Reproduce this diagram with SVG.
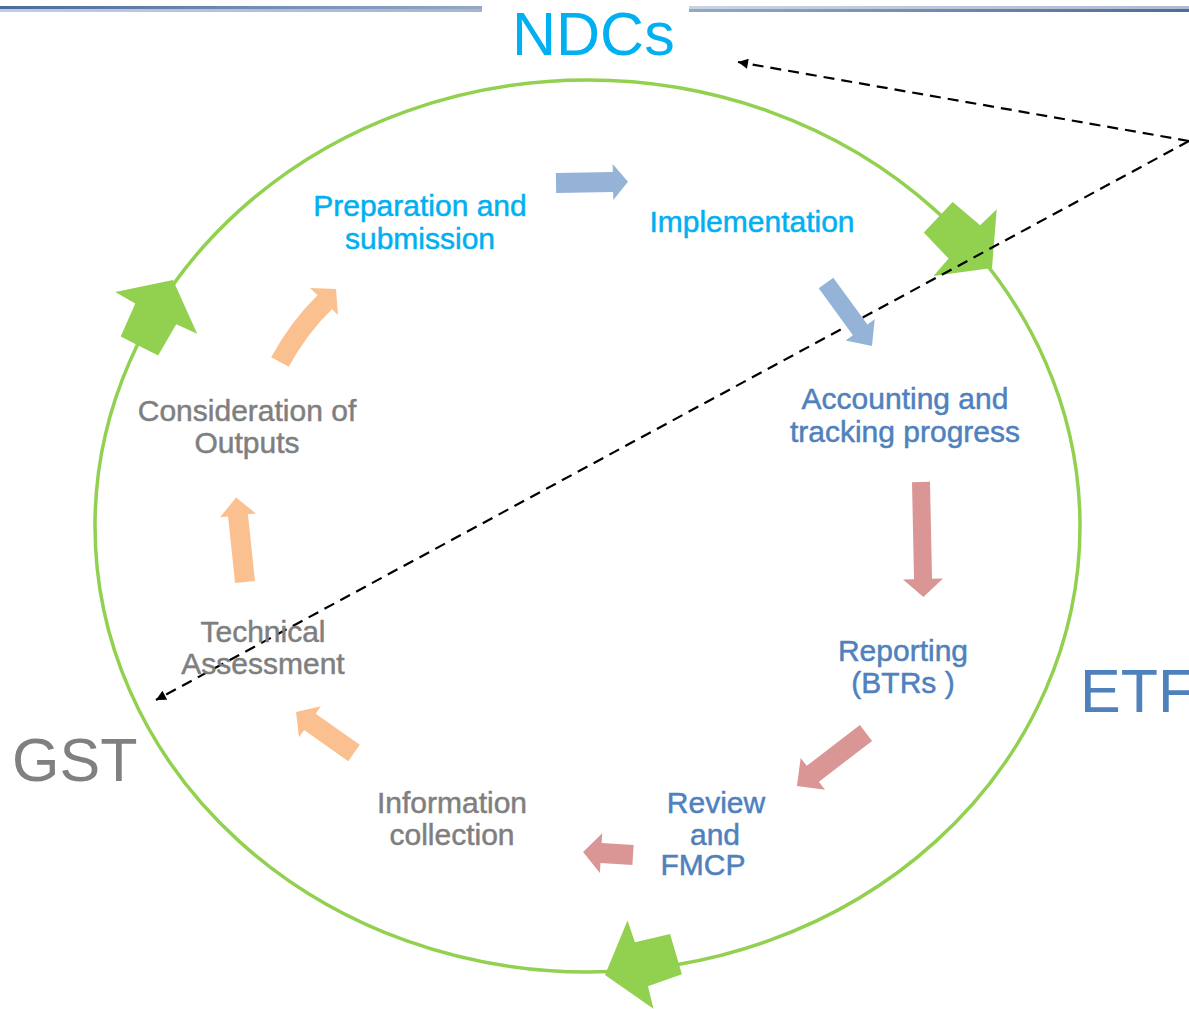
<svg xmlns="http://www.w3.org/2000/svg" width="1189" height="1009" viewBox="0 0 1189 1009">
<defs>
<style>
.lbl{font-family:"Liberation Sans",Arial,sans-serif;font-size:30px;text-anchor:middle;stroke-width:0.5}
.cy{fill:#00b0f0;stroke:#00b0f0}
.bl{fill:#4f81bd;stroke:#4f81bd}
.gr{fill:#7f7f7f;stroke:#7f7f7f}
.big{font-family:"Liberation Sans",Arial,sans-serif;font-size:61px}
.gh{fill:#92d050}
.ba{fill:#95b3d7}
.pa{fill:#d99694}
.oa{fill:#fac090}
.dash{fill:none;stroke:#000;stroke-width:2.2;stroke-dasharray:11 7;marker-end:url(#ah)}
</style>
<marker id="ah" viewBox="0 0 10 10" refX="10" refY="5" markerWidth="13" markerHeight="10" markerUnits="userSpaceOnUse" orient="auto">
<path d="M0,0 L10,5 L0,10 Z" fill="#000"/>
</marker>
<path id="gHead" d="M0,0 L-37,-46 L-38,-23 L-74,-21 L-74,21 L-38,23 L-37,46 Z"/>
<linearGradient id="lgL1" x1="0" x2="1" y1="0" y2="0"><stop offset="0" stop-color="#4c6c9c"/><stop offset="1" stop-color="#94a8c6"/></linearGradient>
<linearGradient id="lgL2" x1="0" x2="1" y1="0" y2="0"><stop offset="0" stop-color="#c3cde0"/><stop offset="1" stop-color="#a6b5cc"/></linearGradient>
<linearGradient id="lgR1" x1="0" x2="1" y1="0" y2="0"><stop offset="0" stop-color="#c9d2e0"/><stop offset="1" stop-color="#aebbd0"/></linearGradient>
<linearGradient id="lgR2" x1="0" x2="1" y1="0" y2="0"><stop offset="0" stop-color="#94a8c6"/><stop offset="1" stop-color="#4c6c9c"/></linearGradient>
</defs>
<rect width="1189" height="1009" fill="#fff"/>
<g id="topRules">
<rect x="0" y="6" width="482" height="3" fill="url(#lgL1)"/>
<rect x="0" y="9" width="482" height="3" fill="url(#lgL2)"/>
<rect x="689" y="6" width="500" height="3" fill="url(#lgR1)"/>
<rect x="689" y="9" width="500" height="3" fill="url(#lgR2)"/>
</g>
<g id="cycle">
<ellipse cx="587.5" cy="526" rx="492.5" ry="446" fill="none" stroke="#92d050" stroke-width="3.5"/>
<use href="#gHead" class="gh" transform="translate(992,268) rotate(43.4)"/>
<use href="#gHead" class="gh" transform="translate(173,280) rotate(-63)"/>
<use href="#gHead" class="gh" transform="translate(605,975) rotate(163.6)"/>
</g>
<g id="connectors">
<path class="dash" d="M1189,141 L738,62"/>
<path class="dash" d="M1189,141 L156,700"/>
<path class="ba" transform="translate(556,183) rotate(-1)" d="M0,-10 L57,-10 L57,-18 L72,0 L57,18 L57,10 L0,10 Z"/>
<path class="ba" transform="translate(826,283) rotate(53.9)" d="M0,-9 L58,-9 L58,-18 L78,0 L58,18 L58,9 L0,9 Z"/>
<path class="pa" transform="translate(921,482) rotate(88.8)" d="M0,-9 L97,-9 L97,-20 L115,0 L97,20 L97,9 L0,9 Z"/>
<path class="pa" transform="translate(866,733) rotate(142.5)" d="M0,-10 L67,-10 L67,-20 L87,0 L67,20 L67,10 L0,10 Z"/>
<path class="pa" transform="translate(633,855) rotate(183.4)" d="M0,-10 L32,-10 L32,-20 L50,0 L32,20 L32,10 L0,10 Z"/>
<path class="oa" transform="translate(354,753) rotate(215.3)" d="M0,-10 L54,-10 L54,-19 L71,0 L54,19 L54,10 L0,10 Z"/>
<path class="oa" transform="translate(245,582) rotate(-96)" d="M0,-10 L67,-10 L67,-18 L85,0 L67,18 L67,10 L0,10 Z"/>
<g id="curvedOrange">
<path d="M280,362 Q299,327 325,302" fill="none" stroke="#fac090" stroke-width="20"/>
<path class="oa" d="M310,288 L336,289 L338,315 Z"/>
</g>
</g>
<g id="ndcs"><text class="big" x="512" y="55" font-size="59" fill="#00b0f0">NDCs</text></g>
<g id="gst"><text class="big" x="12" y="781" fill="#808080">GST</text></g>
<g id="etf"><text class="big" x="1080" y="712" fill="#4f81bd">ETF</text></g>
<g id="preparation"><text class="lbl cy" x="420" y="216">Preparation and</text><text class="lbl cy" x="420" y="249">submission</text></g>
<g id="implementation"><text class="lbl cy" x="752" y="232">Implementation</text></g>
<g id="accounting"><text class="lbl bl" x="905" y="409">Accounting and</text><text class="lbl bl" x="905" y="442">tracking progress</text></g>
<g id="reporting"><text class="lbl bl" x="903" y="661">Reporting</text><text class="lbl bl" x="903" y="693">(BTRs )</text></g>
<g id="review"><text class="lbl bl" x="716" y="813">Review</text><text class="lbl bl" x="715" y="845">and</text><text class="lbl bl" x="703" y="875">FMCP</text></g>
<g id="information"><text class="lbl gr" x="452" y="813">Information</text><text class="lbl gr" x="452" y="845">collection</text></g>
<g id="technical"><text class="lbl gr" x="263" y="642">Technical</text><text class="lbl gr" x="263" y="674">Assessment</text></g>
<g id="consideration"><text class="lbl gr" x="247" y="421">Consideration of</text><text class="lbl gr" x="247" y="453">Outputs</text></g>
</svg>
